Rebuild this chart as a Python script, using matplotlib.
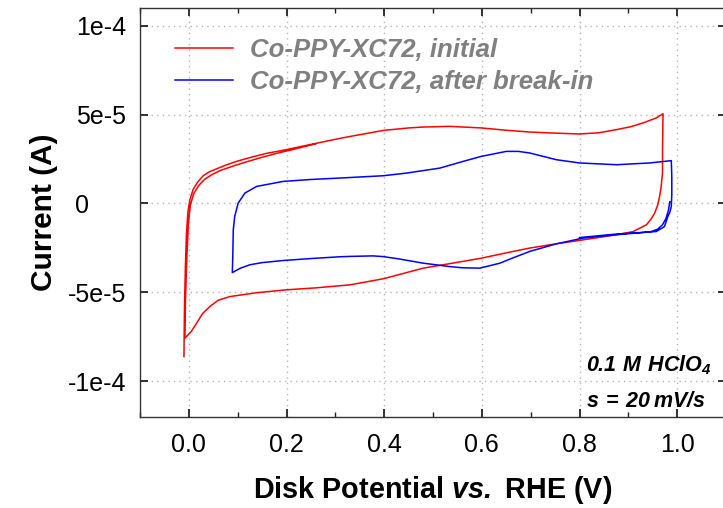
import matplotlib
matplotlib.use("Agg")
import matplotlib.pyplot as plt
from matplotlib.ticker import MultipleLocator, FixedLocator, FixedFormatter
import numpy as np

plt.rcParams["font.family"] = ["Liberation Sans", "DejaVu Sans"]
plt.rcParams["mathtext.fontset"] = "custom"
plt.rcParams["mathtext.bfit"] = "Liberation Sans:italic:bold"
plt.rcParams["mathtext.bf"] = "Liberation Sans:bold"
plt.rcParams["mathtext.rm"] = "Liberation Sans"

# Potential (V vs RHE) and current (units of 1e-5 A)
initial_E = [
    -0.010, -0.009, -0.007, -0.005, -0.002, 0.002, 0.009, 0.018, 0.029, 0.042,
    0.057, 0.075, 0.098, 0.125, 0.159, 0.200, 0.260, 0.309, 0.330, 0.398,
    0.450, 0.479, 0.534, 0.599, 0.650, 0.698, 0.739, 0.800, 0.840, 0.875,
    0.905, 0.930, 0.957, 0.971,
    0.970, 0.970, 0.967, 0.964, 0.960, 0.954, 0.946, 0.937, 0.910, 0.876,
    0.807, 0.750, 0.698, 0.650, 0.599, 0.540, 0.480, 0.398, 0.330, 0.260,
    0.200, 0.140, 0.084, 0.060, 0.043, 0.028, 0.016, 0.005, -0.008,
    -0.007, -0.004, -0.001, 0.003, 0.010, 0.020, 0.032, 0.047, 0.065, 0.088,
    0.113, 0.145, 0.180, 0.215, 0.260,
]
initial_I = [
    -8.62, -6.00, -3.50, -1.80, -0.50, 0.20, 0.80, 1.20, 1.55, 1.78,
    1.95, 2.15, 2.37, 2.58, 2.82, 3.03, 3.38, 3.66, 3.77, 4.11,
    4.25, 4.30, 4.34, 4.25, 4.12, 4.02, 3.97, 3.91, 3.98, 4.15,
    4.32, 4.53, 4.81, 5.05,
    3.00, 1.71, 0.90, 0.39, -0.10, -0.54, -0.90, -1.20, -1.58, -1.76,
    -2.05, -2.28, -2.51, -2.78, -3.08, -3.36, -3.64, -4.24, -4.58, -4.75,
    -4.86, -5.02, -5.24, -5.45, -5.80, -6.20, -6.74, -7.20, -7.58,
    -5.50, -3.00, -1.20, -0.10, 0.55, 1.00, 1.35, 1.62, 1.86, 2.08,
    2.30, 2.56, 2.82, 3.05, 3.36,
]

after_E = [
    0.985, 0.982, 0.977, 0.970, 0.960, 0.945, 0.910, 0.876, 0.807, 0.753,
    0.698, 0.665, 0.637, 0.596, 0.560, 0.534, 0.480, 0.430, 0.398, 0.377,
    0.330, 0.309, 0.250, 0.193, 0.150, 0.125, 0.105, 0.089,
    0.090, 0.091, 0.094, 0.101, 0.115, 0.139, 0.193, 0.250, 0.309, 0.398,
    0.446, 0.514, 0.562, 0.599, 0.650, 0.675, 0.698, 0.753, 0.800, 0.876,
    0.944, 0.988,
    0.989, 0.989, 0.988, 0.985, 0.981, 0.974, 0.957, 0.876, 0.800,
]
after_I = [
    0.10, -0.40, -0.85, -1.20, -1.45, -1.60, -1.68, -1.76, -1.95, -2.27,
    -2.70, -3.05, -3.36, -3.64, -3.62, -3.55, -3.36, -3.12, -2.99, -2.95,
    -2.98, -3.00, -3.10, -3.21, -3.33, -3.45, -3.65, -3.89,
    -3.00, -1.48, -0.73, 0.02, 0.59, 0.96, 1.24, 1.35, 1.43, 1.56,
    1.71, 1.99, 2.37, 2.65, 2.93, 2.93, 2.84, 2.46, 2.28, 2.18,
    2.28, 2.41,
    1.50, 0.50, -0.17, -0.50, -0.73, -1.30, -1.58, -1.72, -1.92,
]

series_labels = ["Co-PPY-XC72, initial", "Co-PPY-XC72, after break-in"]
x_ticks = [0.0, 0.2, 0.4, 0.6, 0.8, 1.0]
x_ticklabels = ["0.0", "0.2", "0.4", "0.6", "0.8", "1.0"]
y_ticks = [1e-4, 5e-5, 0, -5e-5, -1e-4]
y_ticklabels = ["1e-4", "5e-5", "", "-5e-5", "-1e-4"]
zero_label = "0"

fig = plt.figure(figsize=(7.23, 5.08), dpi=100)
ax = fig.add_axes([140 / 723, 91.3 / 508, 586 / 723, 408.7 / 508])

ax.plot(initial_E, np.array(initial_I) * 1e-5, color="#ff0000", lw=1.1,
        label=series_labels[0])
ax.plot(after_E, np.array(after_I) * 1e-5, color="#0000ff", lw=1.1,
        label=series_labels[1])

ax.set_xlim(-0.1, 1.1)
ax.set_ylim(-1.2e-4, 1.1e-4)

ax.xaxis.set_major_locator(FixedLocator(x_ticks))
ax.xaxis.set_major_formatter(FixedFormatter(x_ticklabels))
ax.xaxis.set_minor_locator(MultipleLocator(0.1))
ax.yaxis.set_major_locator(FixedLocator(y_ticks))
ax.yaxis.set_major_formatter(FixedFormatter(y_ticklabels))

ax.tick_params(which="both", direction="in", top=True, right=True,
               colors="#222222", labelcolor="black")
ax.tick_params(which="major", length=6, width=1.3, labelsize=18)
ax.tick_params(which="minor", length=3.5, width=1.0)
ax.tick_params(axis="x", which="major", pad=12)
ax.tick_params(axis="y", which="major", pad=10)

# the zero label sits left-aligned with the other labels' first digit
ax.text(-65 / 586, 0, zero_label, transform=ax.get_yaxis_transform(),
        ha="left", va="center_baseline", fontsize=18, clip_on=False)

for sp in ax.spines.values():
    sp.set_color("#333333")
    sp.set_linewidth(1.0)

ax.grid(True, which="major", color="#b5b5b5", linestyle=(0, (1, 3)), lw=1.0)

ax.set_ylabel("Current (A)", fontsize=21.5, fontweight="bold", labelpad=7)
ax.set_xlabel(r"Disk Potential $\mathbfit{vs.}$ RHE (V)", fontsize=20.7,
              fontweight="bold", labelpad=12)

leg = ax.legend(loc="upper left", bbox_to_anchor=(35 / 586, 0.9255),
                frameon=False, borderpad=0, borderaxespad=0,
                handlelength=2.26, handletextpad=0.66, labelspacing=0.28,
                prop={"size": 18.5, "weight": "bold", "style": "italic"})
for t in leg.get_texts():
    t.set_color("#808080")

ax.text(446 / 586, 0.110, r"$\mathbfit{0.1\ M\ HClO_4}$", transform=ax.transAxes,
        ha="left", va="baseline", fontsize=15.5)
ax.text(446 / 586, 0.0245, r"$\mathbfit{s\,=\,20\,mV/s}$", transform=ax.transAxes,
        ha="left", va="baseline", fontsize=15.5)

fig.savefig("out.png", dpi=100)
